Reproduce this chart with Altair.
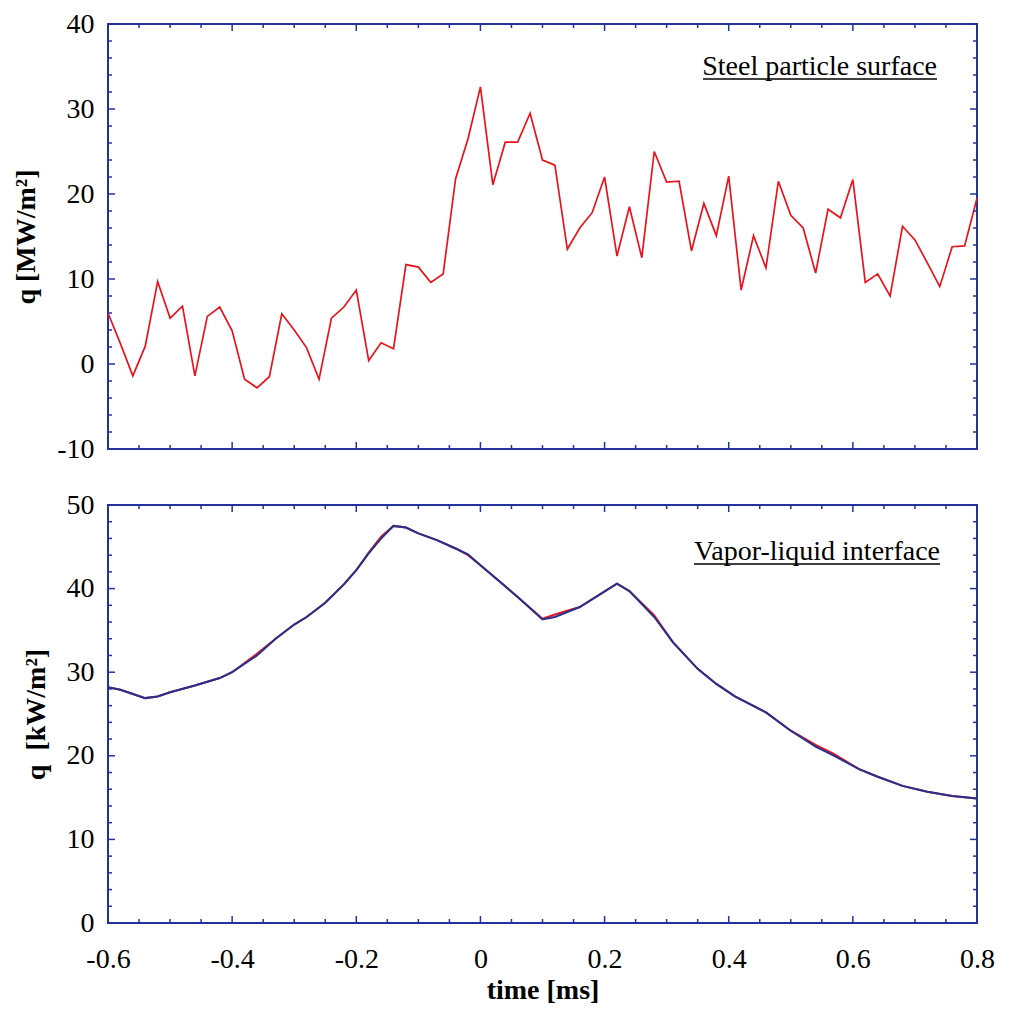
import altair as alt
import pandas as pd

# ---- data -------------------------------------------------------------
time_top = [
    -0.60, -0.58, -0.56, -0.54, -0.52, -0.50, -0.48, -0.46, -0.44, -0.42,
    -0.40, -0.38, -0.36, -0.34, -0.32, -0.30, -0.28, -0.26, -0.24, -0.22,
    -0.20, -0.18, -0.16, -0.14, -0.12, -0.10, -0.08, -0.06, -0.04, -0.02,
    0.00, 0.02, 0.04, 0.06, 0.08, 0.10, 0.12, 0.14, 0.16, 0.18,
    0.20, 0.22, 0.24, 0.26, 0.28, 0.30, 0.32, 0.34, 0.36, 0.38,
    0.40, 0.42, 0.44, 0.46, 0.48, 0.50, 0.52, 0.54, 0.56, 0.58,
    0.60, 0.62, 0.64, 0.66, 0.68, 0.70, 0.72, 0.74, 0.76, 0.78,
    0.80,
]
q_surface = [
    6.0, 2.4, -1.4, 2.1, 9.7, 5.4, 6.8, -1.4, 5.6, 6.7,
    3.9, -1.8, -2.8, -1.5, 5.9, 4.0, 1.9, -1.8, 5.4, 6.7,
    8.7, 0.4, 2.5, 1.8, 11.7, 11.4, 9.6, 10.6, 21.8, 26.5,
    32.6, 21.1, 26.1, 26.1, 29.5, 24.0, 23.4, 13.5, 16.0, 17.8,
    22.0, 12.7, 18.5, 12.5, 25.0, 21.4, 21.5, 13.3, 18.9, 15.1,
    22.1, 8.7, 15.1, 11.3, 21.5, 17.5, 16.0, 10.7, 18.2, 17.2,
    21.7, 9.6, 10.6, 8.0, 16.2, 14.6, 11.9, 9.1, 13.8, 13.9,
    19.5,
]

time_bottom = [
    -0.60, -0.58, -0.54, -0.52, -0.50, -0.46, -0.42, -0.40, -0.36, -0.33,
    -0.30, -0.28, -0.25, -0.22, -0.20, -0.18, -0.16, -0.14, -0.12, -0.10,
    -0.07, -0.04, -0.02, 0.00, 0.03, 0.06, 0.10, 0.12, 0.16, 0.22,
    0.24, 0.28, 0.31, 0.35, 0.38, 0.41, 0.46, 0.50, 0.54, 0.57,
    0.61, 0.64, 0.68, 0.72, 0.76, 0.80,
]
q_interface_model = [
    28.2, 27.9, 26.9, 27.1, 27.6, 28.4, 29.3, 30.0, 32.2, 34.0,
    35.7, 36.6, 38.3, 40.5, 42.2, 44.3, 46.2, 47.5, 47.3, 46.6,
    45.8, 44.8, 44.0, 42.8, 40.9, 39.0, 36.4, 36.9, 37.8, 40.6,
    39.7, 36.8, 33.6, 30.4, 28.6, 27.1, 25.2, 23.0, 21.3, 20.2,
    18.4, 17.5, 16.4, 15.7, 15.2, 14.9,
]
q_interface = [
    28.2, 27.9, 26.9, 27.1, 27.6, 28.4, 29.3, 30.0, 32.0, 34.0,
    35.7, 36.6, 38.3, 40.5, 42.2, 44.2, 46.0, 47.5, 47.3, 46.6,
    45.8, 44.8, 44.1, 42.8, 40.9, 39.0, 36.3, 36.6, 37.8, 40.6,
    39.7, 36.6, 33.6, 30.4, 28.6, 27.1, 25.2, 23.0, 21.1, 20.0,
    18.4, 17.5, 16.4, 15.7, 15.2, 14.9,
]

x_major = [-0.6, -0.4, -0.2, 0.0, 0.2, 0.4, 0.6, 0.8]
x_minor = [-0.55, -0.5, -0.45, -0.35, -0.3, -0.25, -0.15, -0.1, -0.05,
           0.05, 0.1, 0.15, 0.25, 0.3, 0.35, 0.45, 0.5, 0.55, 0.65, 0.7, 0.75]
y_top_major = [-10, 0, 10, 20, 30, 40]
y_top_minor = [-8, -6, -4, -2, 2, 4, 6, 8, 12, 14, 16, 18, 22, 24, 26, 28,
               32, 34, 36, 38]
y_bot_major = [0, 10, 20, 30, 40, 50]
y_bot_minor = [2, 4, 6, 8, 12, 14, 16, 18, 22, 24, 26, 28, 32, 34, 36, 38,
               42, 44, 46, 48]

# ---- styling ----------------------------------------------------------
W = 869
H_TOP = 425
H_BOT = 418
FRAME = "#2233a0"
RED = "#e8141c"
BLUE = "#25308f"
FONT = "Liberation Serif"
MAJOR_LEN = 7
MINOR_LEN = 4

x_scale = alt.Scale(domain=[-0.6, 0.8], nice=False, zero=False)
x_label_expr = ("datum.value == 0 ? '0' : (datum.value < 0 ? '-' : '') + "
                "format(abs(datum.value), '.1f')")
y_label_expr = "(datum.value < 0 ? '-' : '') + format(abs(datum.value), 'd')"


def inward_ticks(height, y_scale, xs_major, xs_minor, ys_major, ys_minor):
    """Tick marks drawn on the inside of all four frame edges."""
    layers = []
    for vals, length in ((xs_major, MAJOR_LEN), (xs_minor, MINOR_LEN)):
        df = pd.DataFrame({"t": vals})
        base = alt.Chart(df).mark_rule(color=FRAME, strokeWidth=1.5)
        xe = alt.X("t:Q", scale=x_scale, axis=None)
        layers.append(base.encode(x=xe, y=alt.value(height),
                                  y2=alt.value(height - length)))
        layers.append(base.encode(x=xe, y=alt.value(0), y2=alt.value(length)))
    for vals, length in ((ys_major, MAJOR_LEN), (ys_minor, MINOR_LEN)):
        df = pd.DataFrame({"v": vals})
        base = alt.Chart(df).mark_rule(color=FRAME, strokeWidth=1.5)
        ye = alt.Y("v:Q", scale=y_scale, axis=None)
        layers.append(base.encode(y=ye, x=alt.value(0), x2=alt.value(length)))
        layers.append(base.encode(y=ye, x=alt.value(W), x2=alt.value(W - length)))
    return layers


def underlined_label(text, right, baseline, width):
    df = pd.DataFrame({"label": [text]})
    words = alt.Chart(df).mark_text(
        align="right", baseline="alphabetic", font=FONT, fontSize=28,
        color="black",
    ).encode(x=alt.value(right), y=alt.value(baseline), text="label:N")
    line = alt.Chart(df).mark_rule(color="black", strokeWidth=1.6).encode(
        x=alt.value(right - width), x2=alt.value(right),
        y=alt.value(baseline + 4),
    )
    return [words, line]


def y_axis(title, values):
    return alt.Axis(
        values=values, ticks=False, domain=False, grid=False, orient="left",
        labelFont=FONT, labelFontSize=28, labelColor="black", labelPadding=14,
        labelExpr=y_label_expr,
        title=title, titleFont=FONT, titleFontSize=28, titleFontWeight="bold",
        titleColor="black", titlePadding=16,
    )


# ---- top panel: steel particle surface --------------------------------
y_top_scale = alt.Scale(domain=[-10, 40], nice=False, zero=False)
top_df = pd.DataFrame({"t": time_top, "q": q_surface})
top_line = alt.Chart(top_df).mark_line(color=RED, strokeWidth=1.7).encode(
    x=alt.X("t:Q", scale=x_scale, axis=None),
    y=alt.Y("q:Q", scale=y_top_scale,
            axis=y_axis("q [MW/m²]", y_top_major)),
)
top = alt.layer(
    top_line,
    *inward_ticks(H_TOP, y_top_scale, x_major, x_minor, y_top_major, y_top_minor),
    *underlined_label("Steel particle surface", 829, 51, 234),
).resolve_axis(x="independent", y="independent").properties(
    width=W, height=H_TOP)

# ---- bottom panel: vapor-liquid interface ------------------------------
y_bot_scale = alt.Scale(domain=[0, 50], nice=False, zero=False)
bot_df = pd.DataFrame({"t": time_bottom, "model": q_interface_model,
                       "q": q_interface})
x_axis = alt.Axis(
    values=x_major, ticks=False, domain=False, grid=False, orient="bottom",
    labelFont=FONT, labelFontSize=28, labelColor="black", labelPadding=22,
    labelExpr=x_label_expr, labelFlush=False,
    title="time [ms]", titleFont=FONT, titleFontSize=28,
    titleFontWeight="bold", titleColor="black", titlePadding=3,
)
bot_red = alt.Chart(bot_df).mark_line(color=RED, strokeWidth=2).encode(
    x=alt.X("t:Q", scale=x_scale, axis=x_axis),
    y=alt.Y("model:Q", scale=y_bot_scale,
            axis=y_axis("q\u00a0 [kW/m²]", y_bot_major)),
)
bot_blue = alt.Chart(bot_df).mark_line(color=BLUE, strokeWidth=2).encode(
    x=alt.X("t:Q", scale=x_scale, axis=None),
    y=alt.Y("q:Q", scale=y_bot_scale, axis=None),
)
bottom = alt.layer(
    bot_red, bot_blue,
    *inward_ticks(H_BOT, y_bot_scale, x_major, x_minor, y_bot_major, y_bot_minor),
    *underlined_label("Vapor-liquid interface", 832, 55, 246),
).resolve_axis(x="independent", y="independent").properties(
    width=W, height=H_BOT)

chart = alt.vconcat(top, bottom, spacing=56, bounds="flush").properties(
    padding={"left": 11, "top": 9, "right": 5, "bottom": 5},
    background="white",
).configure_view(stroke=FRAME, strokeWidth=2)

chart.save("out.html", embed_options={"renderer": "svg", "actions": False})
